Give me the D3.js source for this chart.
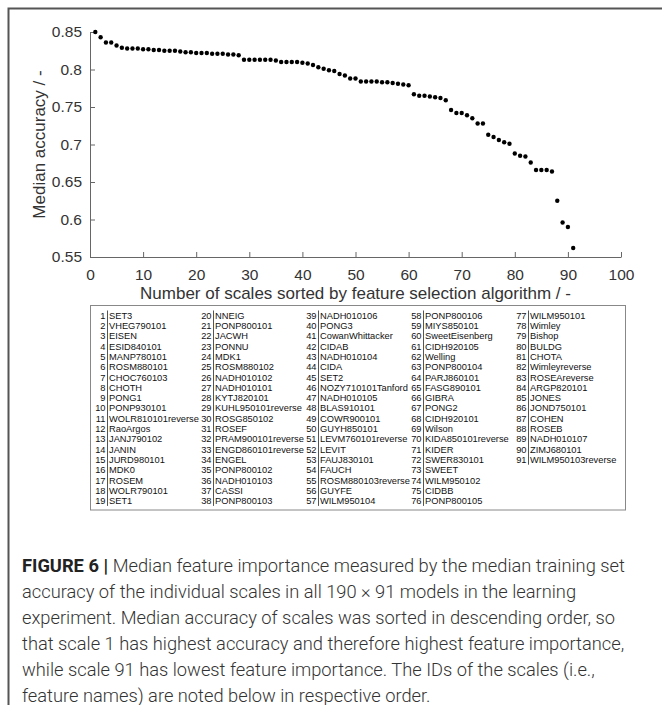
<!DOCTYPE html>
<html>
<head>
<meta charset="utf-8">
<script src="https://cdn.jsdelivr.net/npm/d3@7"></script>
<style>
	body { margin: 0; background: #fff; }
	svg { display: block; }
</style>
</head>
<body>
<script>

// scale IDs, in the order of the sorted median accuracy
var scaleIds = ["SET3", "VHEG790101", "EISEN", "ESID840101", "MANP780101", "ROSM880101", "CHOC760103",
	"CHOTH", "PONG1", "PONP930101", "WOLR810101reverse", "RaoArgos", "JANJ790102", "JANIN", "JURD980101",
	"MDK0", "ROSEM", "WOLR790101", "SET1", "NNEIG", "PONP800101", "JACWH", "PONNU", "MDK1", "ROSM880102",
	"NADH010102", "NADH010101", "KYTJ820101", "KUHL950101reverse", "ROSG850102", "ROSEF",
	"PRAM900101reverse", "ENGD860101reverse", "ENGEL", "PONP800102", "NADH010103", "CASSI", "PONP800103",
	"NADH010106", "PONG3", "CowanWhittacker", "CIDAB", "NADH010104", "CIDA", "SET2", "NOZY710101Tanford",
	"NADH010105", "BLAS910101", "COWR900101", "GUYH850101", "LEVM760101reverse", "LEVIT", "FAUJ830101",
	"FAUCH", "ROSM880103reverse", "GUYFE", "WILM950104", "PONP800106", "MIYS850101", "SweetEisenberg",
	"CIDH920105", "Welling", "PONP800104", "PARJ860101", "FASG890101", "GIBRA", "PONG2", "CIDH920101",
	"Wilson", "KIDA850101reverse", "KIDER", "SWER830101", "SWEET", "WILM950102", "CIDBB", "PONP800105",
	"WILM950101", "Wimley", "Bishop", "BULDG", "CHOTA", "Wimleyreverse", "ROSEAreverse", "ARGP820101",
	"JONES", "JOND750101", "COHEN", "ROSEB", "NADH010107", "ZIMJ680101", "WILM950103reverse"];

// median accuracy per scale
var medianAccuracy = [0.850, 0.843, 0.836, 0.836, 0.832, 0.829, 0.828, 0.828, 0.828, 0.827,
	0.827, 0.826, 0.826, 0.825, 0.825, 0.825, 0.824, 0.823, 0.823, 0.822,
	0.822, 0.822, 0.821, 0.821, 0.821, 0.820, 0.820, 0.819, 0.813, 0.813,
	0.813, 0.813, 0.813, 0.813, 0.812, 0.810, 0.810, 0.810, 0.810, 0.809,
	0.808, 0.806, 0.803, 0.801, 0.799, 0.798, 0.794, 0.792, 0.788, 0.788,
	0.784, 0.784, 0.784, 0.784, 0.783, 0.783, 0.782, 0.781, 0.780, 0.779,
	0.767, 0.765, 0.765, 0.764, 0.763, 0.762, 0.759, 0.746, 0.742, 0.742,
	0.739, 0.735, 0.728, 0.728, 0.713, 0.710, 0.706, 0.703, 0.701, 0.688,
	0.685, 0.684, 0.676, 0.666, 0.666, 0.666, 0.664, 0.625, 0.596, 0.590, 0.562];

var xTicks = [0, 10, 20, 30, 40, 50, 60, 70, 80, 90, 100];
var yTicks = [0.55, 0.6, 0.65, 0.7, 0.75, 0.8, 0.85];
var yTickLabels = ["0.55", "0.6", "0.65", "0.7", "0.75", "0.8", "0.85"];

var captionLines = [
	"Median feature importance measured by the median training set",
	"accuracy of the individual scales in all 190 \u00d7 91 models in the learning",
	"experiment. Median accuracy of scales was sorted in descending order, so",
	"that scale 1 has highest accuracy and therefore highest feature importance,",
	"while scale 91 has lowest feature importance. The IDs of the scales (i.e.,",
	"feature names) are noted below in respective order."
];

var W = 662, H = 705;
var font = "'Liberation Sans', Arial, sans-serif";

var svg = d3.select("body").append("svg")
	.attr("width", W)
	.attr("height", H);

// outer frame (left and top only visible)
svg.append("path")
	.attr("d", "M8.5," + H + "V8.5H" + W)
	.attr("fill", "none")
	.attr("stroke", "#555")
	.attr("stroke-width", 2);

// plot area
var x = d3.scaleLinear().domain([0, 100]).range([90, 621]);
var y = d3.scaleLinear().domain([0.55, 0.85]).range([257, 32]);

var xAxis = svg.append("g")
	.attr("transform", "translate(0," + y(0.55) + ")")
	.call(d3.axisBottom(x).tickValues(xTicks).tickSizeInner(-5).tickSizeOuter(0).tickPadding(12));

var yAxis = svg.append("g")
	.attr("transform", "translate(" + x(0) + ",0)")
	.call(d3.axisLeft(y).tickValues(yTicks).tickSizeInner(-5).tickSizeOuter(0).tickPadding(8)
		.tickFormat(function(d, i) { return yTickLabels[i]; }));

[xAxis, yAxis].forEach(function(a) {
	a.attr("font-family", null);
	a.select(".domain").attr("stroke", "#666");
	a.selectAll(".tick line").attr("stroke", "#666");
	a.selectAll(".tick text")
		.attr("fill", "#333")
		.style("font-family", font)
		.style("font-size", "15.5px");
});

// axis titles
svg.append("text")
	.attr("x", (x(0) + x(100)) / 2)
	.attr("y", 299)
	.attr("text-anchor", "middle")
	.attr("fill", "#333")
	.style("font-family", font)
	.style("font-size", "17px")
	.text("Number of scales sorted by feature selection algorithm / -");

svg.append("text")
	.attr("transform", "translate(45," + ((y(0.55) + y(0.85)) / 2) + ") rotate(-90)")
	.attr("text-anchor", "middle")
	.attr("fill", "#333")
	.style("font-family", font)
	.style("font-size", "17px")
	.text("Median accuracy / -");

// points
svg.append("g").selectAll("circle")
	.data(medianAccuracy)
	.enter().append("circle")
		.attr("cx", function(d, i) { return x(i + 1); })
		.attr("cy", function(d) { return y(d); })
		.attr("r", 2.2)
		.attr("fill", "#000");

// legend table with scale IDs
var rowsPerCol = 19;
var legendLeft = 90, legendTop = 305.5, legendRight = 625, legendBottom = 510;
var colSep = [107, 213, 318, 423, 528];
var rowH = 10.3, firstRow = 315.5;

svg.append("rect")
	.attr("x", legendLeft + 0.5)
	.attr("y", legendTop)
	.attr("width", legendRight - legendLeft)
	.attr("height", legendBottom - legendTop)
	.attr("fill", "none")
	.attr("stroke", "#888")
	.attr("stroke-width", 1);

var cols = d3.range(Math.ceil(scaleIds.length / rowsPerCol));

svg.append("g").selectAll("line")
	.data(cols)
	.enter().append("line")
		.attr("x1", function(c) { return colSep[c] + 0.5; })
		.attr("x2", function(c) { return colSep[c] + 0.5; })
		.attr("y1", firstRow - 5)
		.attr("y2", function(c) {
			var n = Math.min(rowsPerCol, scaleIds.length - c * rowsPerCol);
			return firstRow + (n - 1) * rowH + 5;
		})
		.attr("stroke", "#555")
		.attr("stroke-width", 1);

var entries = svg.append("g")
	.style("font-family", font)
	.style("font-size", "9.3px")
	.attr("fill", "#111")
	.selectAll("g")
	.data(scaleIds)
	.enter().append("g")
		.attr("transform", function(d, i) {
			var c = Math.floor(i / rowsPerCol), r = i % rowsPerCol;
			return "translate(" + colSep[c] + "," + (firstRow + r * rowH) + ")";
		});

entries.append("text")
	.attr("x", -1.5)
	.attr("dy", "0.35em")
	.attr("text-anchor", "end")
	.text(function(d, i) { return i + 1; });

entries.append("text")
	.attr("x", 2)
	.attr("dy", "0.35em")
	.text(function(d) { return d; });

// caption
var cap = svg.append("g")
	.style("font-family", "Roboto, 'Liberation Sans', sans-serif")
	.style("font-size", "18.3px")
	.style("font-weight", 300)
	.attr("fill", "#333");

captionLines.forEach(function(line, i) {
	var t = cap.append("text")
		.attr("x", 22)
		.attr("y", 572 + i * 26);
	if (i === 0) {
		t.append("tspan").style("font-weight", 700).attr("fill", "#222").text("FIGURE 6 | ");
	}
	t.append("tspan").text(line);
});

</script>
</body>
</html>
